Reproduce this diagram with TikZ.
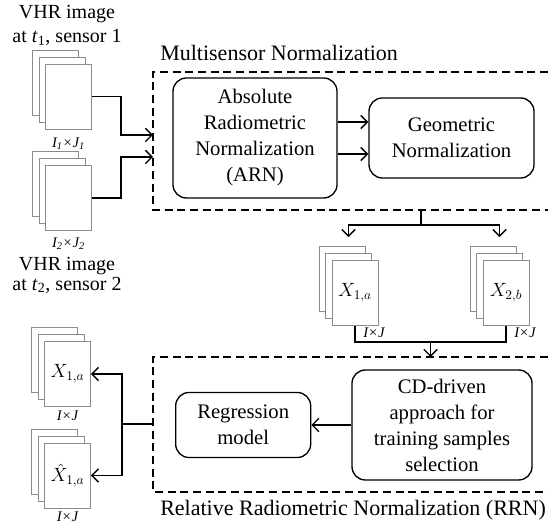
\documentclass[tikz,border=0pt]{standalone}
\usepackage{fontspec}
\setmainfont{Liberation Serif}
\usetikzlibrary{arrows.meta,positioning,calc}
\definecolor{pagegray}{HTML}{8C8C8C}
\tikzset{
  procnode/.style={draw,line width=1pt,rounded corners=10pt,align=center,font=\fontsize{15.5}{19.5}\selectfont,inner sep=2pt},
  page/.style={draw=pagegray,line width=0.7pt,fill=white,minimum width=34.5pt,minimum height=48.75pt,inner sep=0pt,font=\fontsize{14}{16}\selectfont},
  sizelabel/.style={font=\fontsize{11}{12}\selectfont\itshape,inner sep=1pt},
  imgcaption/.style={align=center,font=\fontsize{15}{18}\selectfont,inner sep=0pt},
  stagetitle/.style={anchor=west,inner sep=0pt,font=\fontsize{16.5}{19}\selectfont},
  stagebox/.style={dash pattern=on 6pt off 3.5pt,line width=0.9pt},
  arrow/.style={-{Straight Barb[length=5pt,width=10pt]},line width=1pt},
  connector/.style={line width=1pt}
}
% stack of three image pages: name, centre of front page, content
\newcommand{\imgstack}[3]{%
  \node[page] (#1-3) at ($(#2)+(-13,14)$) {};
  \node[page] (#1-2) at ($(#2)+(-6.5,7)$) {};
  \node[page] (#1) at (#2) {#3};
}
\begin{document}
\begin{tikzpicture}[x=0.75pt,y=0.75pt,node distance=4pt]
  \useasboundingbox (0,0) rectangle (548,527);

  % input images
  \node[imgcaption] (cap1) at (67,501.5) {VHR image\\at \textit{t}\textsubscript{1}, sensor 1};
  \imgstack{S1}{68.5,430.5}{}
  \node[sizelabel,below=5pt of S1] (S1-size) {I\textsubscript{1}×J\textsubscript{1}};
  \imgstack{S2}{68.5,329}{}
  \node[sizelabel,below=4pt of S2] (S2-size) {I\textsubscript{2}×J\textsubscript{2}};
  \node[imgcaption,font=\fontsize{15}{15}\selectfont] (cap2) at (67,252) {VHR image\\at \textit{t}\textsubscript{2}, sensor 2};

  % Multisensor normalization
  \node[stagetitle] (mstitle) at (160,474) {Multisensor Normalization};
  \draw[stagebox] (548,455) -- (153,455) -- (153,317) -- (548,317);
  \coordinate (ms-in1) at (153,392);
  \coordinate (ms-in2) at (153,370);
  \coordinate (ms-out) at (421,317);
  \node[procnode,minimum width=123pt,minimum height=90pt] (arn) at (255,389) {Absolute\\Radiometric\\Normalization\\(ARN)};
  \node[procnode,minimum width=123.75pt,minimum height=60pt,right=23pt of arn] (geo) {Geometric\\Normalization};
  \draw[arrow] ([yshift=12pt]arn.east) -- ([yshift=12pt]geo.west);
  \draw[arrow] ([yshift=-12pt]arn.east) -- ([yshift=-12pt]geo.west);
  \draw[arrow] (S1.east) -- ++(29,0) |- (ms-in1);
  \draw[arrow] (S2.east) -- ++(29,0) |- (ms-in2);

  % normalized images
  \imgstack{X1a}{355,234}{$X_{1,a}$}
  \imgstack{X2b}{506,234}{$X_{2,b}$}
  \node[sizelabel,below right=0pt and 5pt of X1a.south] (X1a-size) {I×J};
  \node[sizelabel,below right=0pt and 5pt of X2b.south] (X2b-size) {I×J};
  \draw[connector] (ms-out) -- ++(0,-15) coordinate (split);
  \draw[arrow] (split) -| ([yshift=12pt]X1a-2.north);
  \draw[arrow] (split) -| ([yshift=12pt]X2b-2.north);

  % Relative radiometric normalization
  \draw[stagebox] (548,170) -- (153,170) coordinate (rrn-nw) -- (153,35) -- (548,35);
  \coordinate (rrn-out) at (153,103);
  \node[stagetitle] (rrntitle) at (160,17) {Relative Radiometric Normalization (RRN)};
  \node[procnode,minimum width=135pt,minimum height=82.5pt] (cd) at (442,102) {CD-driven\\approach for\\training samples\\selection};
  \node[procnode,minimum width=101.25pt,minimum height=48.75pt,left=30pt of cd] (reg) {Regression\\model};
  \draw[arrow] (cd) -- (reg);
  \draw[connector] (X1a.south) -- ++(0,-16) coordinate (join1) -| (X2b.south);
  \coordinate (merge) at ($(join1)!.5!(X2b.south |- join1)$);
  \draw[arrow] (merge) -- (merge |- rrn-nw);

  % output images
  \imgstack{out1}{67.5,153}{$X_{1,a}$}
  \node[sizelabel,below=2pt of out1] (out1-size) {I×J};
  \imgstack{out2}{67.5,51.5}{$\hat{X}_{1,a}$}
  \node[sizelabel,below=1pt of out2] (out2-size) {I×J};
  \draw[connector] (rrn-out) -- ++(-31,0) coordinate (fork);
  \draw[arrow] (fork) |- (out1.east);
  \draw[arrow] (fork) |- (out2.east);
\end{tikzpicture}
\end{document}
